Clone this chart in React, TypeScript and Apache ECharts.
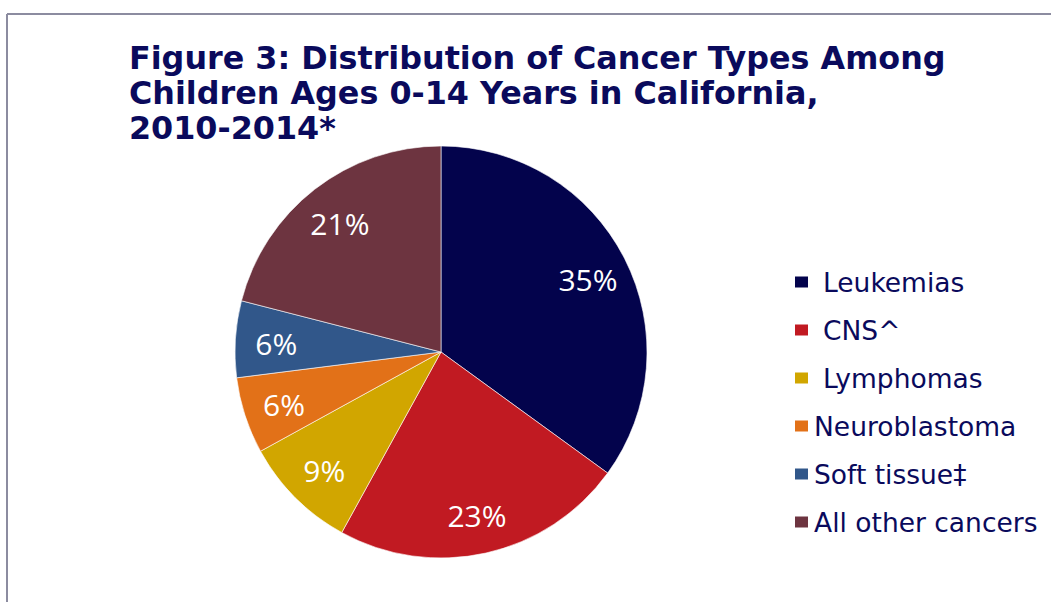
import React, { useEffect, useRef } from "react";
import * as echarts from "echarts";

const titleText = "Figure 3: Distribution of Cancer Types Among\nChildren Ages 0-14 Years in California,\n2010-2014*";
const categories = ["Leukemias", "CNS^", "Lymphomas", "Neuroblastoma", "Soft tissue‡", "All other cancers"];
const percents = [35, 23, 9, 6, 6, 21];
const colors = ["#03034c", "#c11a22", "#d1a600", "#e27118", "#31578a", "#6d3440"];
const indentedLegend = ["Leukemias", "CNS^", "Lymphomas"];

export default function App() {
  const ref = useRef<HTMLDivElement>(null);
  useEffect(() => {
    if (!ref.current) return;
    const chart = echarts.init(ref.current, undefined, { renderer: "svg" });
    const data = categories.map((name, i) => ({ name, value: percents[i] }));
    chart.setOption({
      animation: false,
      backgroundColor: "#ffffff",
      color: colors,
      title: {
        text: titleText,
        left: 124,
        top: 35,
        textStyle: {
          fontFamily: "DejaVu Sans",
          fontWeight: "bold",
          fontSize: 31.8,
          lineHeight: 35,
          color: "#0a0a5c",
        },
      },
      legend: {
        orient: "vertical",
        left: 788,
        top: 262,
        itemWidth: 15,
        itemHeight: 13,
        itemGap: 18,
        icon: "rect",
        data: categories,
        formatter: (name: string) =>
          indentedLegend.includes(name) ? `{a|${name}}` : `{b|${name}}`,
        textStyle: {
          fontFamily: "DejaVu Sans",
          fontSize: 26.5,
          lineHeight: 30,
          color: "#0a0a5c",
          rich: {
            a: { fontFamily: "DejaVu Sans", fontSize: 26.5, lineHeight: 30, color: "#0a0a5c", padding: [0, 0, 0, 9] },
            b: { fontFamily: "DejaVu Sans", fontSize: 26.5, lineHeight: 30, color: "#0a0a5c" },
          },
        },
      },
      graphic: [
        { type: "line", shape: { x1: 7, y1: 14, x2: 1060, y2: 14 }, style: { stroke: "#8c8ca0", lineWidth: 2 } },
        { type: "line", shape: { x1: 7, y1: 14, x2: 7, y2: 610 }, style: { stroke: "#8c8ca0", lineWidth: 2 } },
      ],
      series: [
        {
          type: "pie",
          center: [441, 352],
          radius: [0, 206],
          startAngle: 90,
          clockwise: true,
          data,
          label: { show: false },
          labelLine: { show: false },
          itemStyle: { borderColor: "#ffffff", borderWidth: 0.6 },
          emphasis: { disabled: true },
          silent: true,
        },
        {
          type: "pie",
          center: [441, 352],
          radius: [0, 324],
          startAngle: 90,
          clockwise: true,
          data,
          itemStyle: { color: "transparent", borderWidth: 0 },
          label: {
            show: true,
            position: "inside",
            formatter: "{c}%",
            fontFamily: "Open Sans",
            fontSize: 30,
            color: "#ffffff",
            offset: [0, 2],
          },
          labelLine: { show: false },
          emphasis: { disabled: true },
          silent: true,
        },
      ],
    });
    return () => chart.dispose();
  }, []);
  return <div ref={ref} style={{ position: "fixed", left: 0, top: 0, width: 1051, height: 602 }} />;
}
